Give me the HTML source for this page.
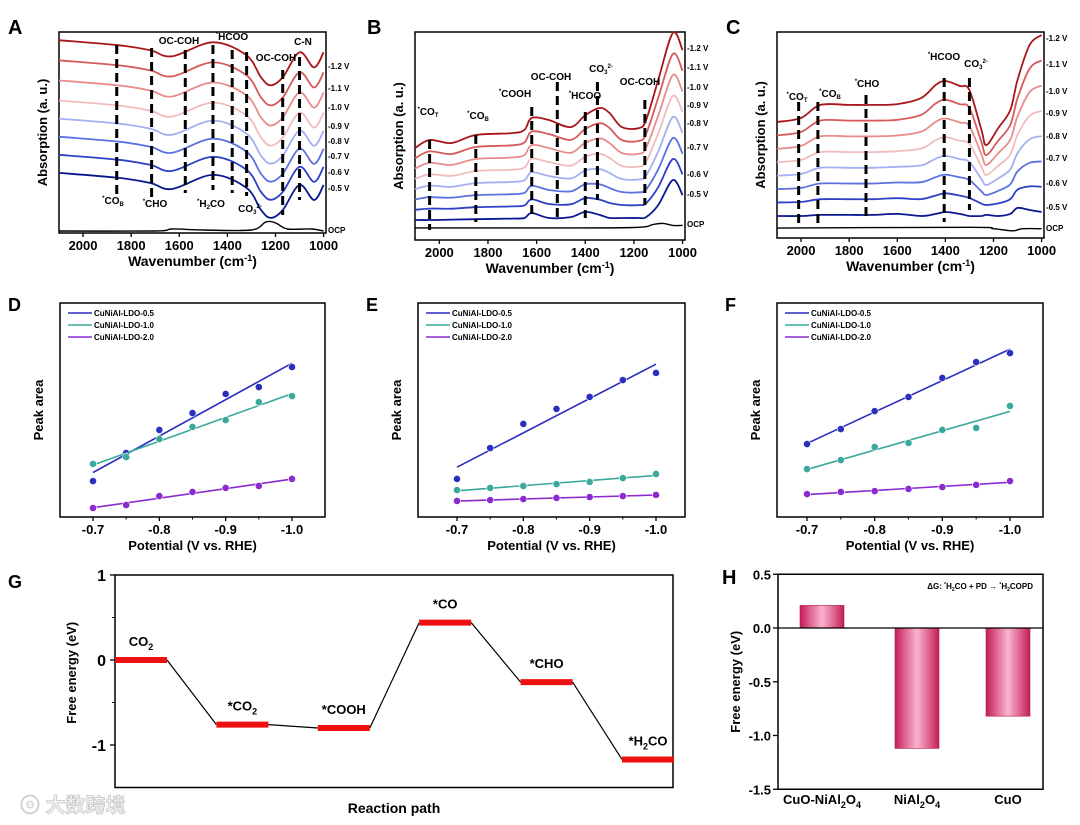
<!DOCTYPE html>
<html><head><meta charset="utf-8"><style>
body{margin:0;background:#fff}
svg{display:block;font-family:"Liberation Sans","Noto Sans CJK SC",sans-serif}
text{font-weight:bold}
</style></head><body>
<svg id="fig" width="1080" height="825" viewBox="0 0 1080 825"></svg>
<script>
// ---------- DATA ----------
const voltLabels = ["-0.5 V","-0.6 V","-0.7 V","-0.8 V","-0.9 V","-1.0 V","-1.1 V","-1.2 V"];
const curveColors = ["#0a1890","#2e40c8","#5d72e2","#a3b0f2","#f3bcbc","#e88c8c","#d65a5a","#a8161a"];
// Panel A
const aWn = [2100,1850,1720,1630,1460,1320,1260,1220,1170,1100,1040,1000];
const aShape = [29.9,27.4,24.9,21.9,28.9,22.4,11.4,7.5,11.4,23.9,16.4,23.9];
const aOffsets = [0,9,18,27,36,46,56,66];
const aOcpWn = [2100,1700,1630,1500,1300,1240,1200,1150,1050,1000];
const aOcp = [1,1,2,1.5,1.5,5.5,5,2,2,1];
const aMarkers = [1860,1715,1575,1460,1380,1320,1170,1100];
// Panel B
const bWn = [2100,2040,1950,1850,1700,1650,1620,1550,1460,1400,1340,1300,1250,1180,1150,1100,1040,1000];
const bBottom = [9.6,9.6,9.8,10,10.3,10.6,13,10.6,11,13.5,12,10.6,10.6,10.6,11,16.8,28.8,21.6];
const bTop = [44.2,48.1,46.6,50.5,51.4,53,58.7,57.7,54.3,60,63.5,61,54.3,53.8,57.7,76.9,99.5,91.3];
const bOcpWn = [2100,1600,1200,1120,1080,1040,1000];
const bOcp = [5.8,5.8,6,7.5,8,7,7];
const bMarkers = [2040,1850,1620,1515,1400,1350,1155];
// Panel C
const cWn = [2100,2000,1920,1800,1700,1600,1500,1440,1400,1340,1300,1250,1230,1180,1130,1100,1050,1000];
const cTop = [56.3,58.3,64.6,64.6,64.6,65.0,68.0,74.3,76.2,73.8,71.8,52.4,45.1,53.4,62.1,76.7,93.7,98.5];
const cBottom = [10.7,10.7,11.2,11.2,11.2,11.7,10.7,11.7,12.6,11.7,10.7,10.7,11.2,10.7,11.7,14.6,13.6,12.6];
const cOcpWn = [2100,1300,1200,1120,1080,1000];
const cOcp = [4.8,5.2,4.5,3.5,4.5,4.5];
const cMarkers = [2010,1930,1730,1405,1300];
// Panels D/E/F
const potentials = [-0.7,-0.75,-0.8,-0.85,-0.9,-0.95,-1.0];
const seriesNames = ["CuNiAl-LDO-0.5","CuNiAl-LDO-1.0","CuNiAl-LDO-2.0"];
const seriesColors = ["#2a2fc0","#3aa89a","#8a2ad0"];
const dBlue = [16.8,29.9,40.7,48.6,57.5,60.7,70.1];
const dTeal = [24.8,28.0,36.4,42.1,45.3,53.7,56.5];
const dPurple = [4.2,5.6,9.8,11.7,13.6,14.5,17.8];
const eBlue = [17.8,32.2,43.5,50.5,56.1,64.0,67.3];
const eTeal = [12.6,13.6,14.5,15.4,16.4,18.2,20.1];
const ePurple = [7.5,7.9,8.4,8.9,9.3,9.8,10.3];
const fBlue = [34.1,41.1,49.5,56.1,65.0,72.4,76.6];
const fTeal = [22.4,26.6,32.7,34.6,40.7,41.6,51.9];
const fPurple = [10.7,11.7,12.1,13.1,14.0,15.0,16.8];
const potTicks = ["-0.7","-0.8","-0.9","-1.0"];
// Panel G
const gStates = ["CO2","*CO2","*COOH","*CO","*CHO","*H2CO"];
const gEnergies = [0,-0.76,-0.8,0.44,-0.26,-1.17];
const gTicks = [1,0,-1];
// Panel H
const hCats = ["CuO-NiAl2O4","NiAl2O4","CuO"];
const hValues = [0.21,-1.12,-0.82];
const hTicks = [0.5,0.0,-0.5,-1.0,-1.5];
const wnTicks = [2000,1800,1600,1400,1200,1000];

// ---------- HELPERS ----------
const svg = document.getElementById('fig');
const NS = "http://www.w3.org/2000/svg";
function mk(tag, attrs, parent){
  const e = document.createElementNS(NS, tag);
  for (const k in attrs) e.setAttribute(k, attrs[k]);
  (parent||svg).appendChild(e);
  return e;
}
function txt(x,y,s,size,anchor,parent){
  const t = mk('text',{x:x,y:y,'font-size':size,'text-anchor':anchor||'middle'},parent);
  t.innerHTML = s;
  return t;
}
function smoothPath(pts){
  let d = "M"+pts[0][0].toFixed(1)+","+pts[0][1].toFixed(1);
  for (let i=0;i<pts.length-1;i++){
    const p0=pts[Math.max(0,i-1)],p1=pts[i],p2=pts[i+1],p3=pts[Math.min(pts.length-1,i+2)];
    const c1=[p1[0]+(p2[0]-p0[0])/6,p1[1]+(p2[1]-p0[1])/6];
    const c2=[p2[0]-(p3[0]-p1[0])/6,p2[1]-(p3[1]-p1[1])/6];
    d+=" C"+c1[0].toFixed(1)+","+c1[1].toFixed(1)+" "+c2[0].toFixed(1)+","+c2[1].toFixed(1)+" "+p2[0].toFixed(1)+","+p2[1].toFixed(1);
  }
  return d;
}

// ---------- SPECTRA PANELS ----------
function spectraPanel(cfg){
  const g = mk('g',{});
  
  
  const X = wn => cfg.left + (2100-wn)/1110*(cfg.right-cfg.left);
  const Y = v => cfg.bottom - v*(cfg.bottom-cfg.top)/100;
  const letter = txt(cfg.letterX, cfg.letterY, cfg.letter, 20, 'start', g);
  
  
  const frame = mk('rect',{x:cfg.left,y:cfg.top,width:cfg.right-cfg.left,height:cfg.bottom-cfg.top,fill:'none',stroke:'#000','stroke-width':1.5},g);
  
  
  for (let i=0;i<8;i++){
    const vals = cfg.curve(i);
    const pts = cfg.wn.map((w,j)=>[X(w),Y(vals[j])]);
    const p = mk('path',{d:smoothPath(pts),fill:'none',stroke:curveColors[i],'stroke-width':1.8},g);
    
    
  }
  const opts = cfg.ocpWn.map((w,j)=>[X(w),Y(cfg.ocp[j])]);
  const op = mk('path',{d:smoothPath(opts),fill:'none',stroke:'#000','stroke-width':1.4},g);
  
  
  cfg.markers.forEach((w,k)=>{
    const m = mk('line',{x1:X(w),x2:X(w),y1:cfg.mTop[k],y2:cfg.mBot[k],stroke:'#000','stroke-width':3,'stroke-dasharray':'9,5'},g);
    
    
  });
  wnTicks.forEach(w=>{
    mk('line',{x1:X(w),x2:X(w),y1:cfg.bottom,y2:cfg.bottom+4,stroke:'#000','stroke-width':1.3},g);
    const t = txt(X(w),cfg.bottom+17,String(w),13,'middle',g);
    
    
  });
  const xt = txt((cfg.left+cfg.right)/2,cfg.bottom+33,'Wavenumber (cm<tspan dy="-5" font-size="9">-1</tspan><tspan dy="5">)</tspan>',14,'middle',g);
  
  
  const yt = txt(0,0,'Absorption (a. u.)',13,'middle',g);
  yt.setAttribute('transform','translate('+(cfg.left-12)+','+((cfg.top+cfg.bottom)/2)+') rotate(-90)');
  
  
  cfg.vY.forEach((y,k)=>{
    const t = txt(cfg.right+2,y+3,k<8?voltLabels[7-k]:'OCP',8,'start',g);
    
    
  });
  cfg.labels.forEach(l=>{
    const t = txt(l[0],l[1],l[2],10,'middle',g);
    
    
  });
}
spectraPanel({name:'panel-a',letter:'A',letterX:8,letterY:34,left:59,right:326,top:32,bottom:233,
  wn:aWn,curve:i=>aShape.map(v=>v+aOffsets[i]),ocpWn:aOcpWn,ocp:aOcp,markers:aMarkers,
  mTop:[45,48,50,45,50,52,70,57],mBot:[195,197,193,190,193,196,215,200],
  vY:[66,88,107,126,141,156,172,188,230],
  labels:[[179,44,'OC-COH'],[232,40,'<tspan font-size="6" dy="-4">*</tspan><tspan dy="4">HCOO</tspan>'],[276,61,'OC-COH'],[303,45,'C-N'],
  [113,204,'<tspan font-size="6" dy="-4">*</tspan><tspan dy="4">CO</tspan><tspan font-size="6" dy="2">B</tspan>'],[155,207,'<tspan font-size="6" dy="-4">*</tspan><tspan dy="4">CHO</tspan>'],[211,207,'<tspan font-size="6" dy="-4">*</tspan><tspan dy="4">H</tspan><tspan font-size="6" dy="2">2</tspan><tspan dy="-2">CO</tspan>'],[250,212,'CO<tspan font-size="6" dy="2">3</tspan><tspan font-size="6" dy="-6">2-</tspan>']]});
spectraPanel({name:'panel-b',letter:'B',letterX:367,letterY:34,left:415,right:685,top:32,bottom:240,
  wn:bWn,curve:i=>bBottom.map((v,j)=>v+(bTop[j]-v)*i/7),ocpWn:bOcpWn,ocp:bOcp,markers:bMarkers,
  mTop:[140,135,107,82,112,82,100],mBot:[230,222,218,218,218,200,205],
  vY:[48,67,87,105,123,147,174,194,224],
  labels:[[428,115,'<tspan font-size="6" dy="-4">*</tspan><tspan dy="4">CO</tspan><tspan font-size="6" dy="2">T</tspan>'],[478,119,'<tspan font-size="6" dy="-4">*</tspan><tspan dy="4">CO</tspan><tspan font-size="6" dy="2">B</tspan>'],[515,97,'<tspan font-size="6" dy="-4">*</tspan><tspan dy="4">COOH</tspan>'],[551,80,'OC-COH'],[585,99,'<tspan font-size="6" dy="-4">*</tspan><tspan dy="4">HCOO</tspan>'],[601,72,'CO<tspan font-size="6" dy="2">3</tspan><tspan font-size="6" dy="-6">2-</tspan>'],[640,85,'OC-COH']]});
spectraPanel({name:'panel-c',letter:'C',letterX:726,letterY:34,left:777,right:1044,top:32,bottom:238,
  wn:cWn,curve:i=>cBottom.map((v,j)=>v+(cTop[j]-v)*i/7),ocpWn:cOcpWn,ocp:cOcp,markers:cMarkers,
  mTop:[102,102,95,78,78],mBot:[228,228,218,222,210],
  vY:[38,64,91,113,136,158,183,207,228],
  labels:[[797,100,'<tspan font-size="6" dy="-4">*</tspan><tspan dy="4">CO</tspan><tspan font-size="6" dy="2">T</tspan>'],[830,97,'<tspan font-size="6" dy="-4">*</tspan><tspan dy="4">CO</tspan><tspan font-size="6" dy="2">B</tspan>'],[867,87,'<tspan font-size="6" dy="-4">*</tspan><tspan dy="4">CHO</tspan>'],[944,60,'<tspan font-size="6" dy="-4">*</tspan><tspan dy="4">HCOO</tspan>'],[976,67,'CO<tspan font-size="6" dy="2">3</tspan><tspan font-size="6" dy="-6">2-</tspan>']]});

// ---------- PEAK AREA PANELS ----------
function fit(xs,ys){
  const n=xs.length,mx=xs.reduce((a,b)=>a+b)/n,my=ys.reduce((a,b)=>a+b)/n;
  let sxy=0,sxx=0;xs.forEach((x,i)=>{sxy+=(x-mx)*(ys[i]-my);sxx+=(x-mx)*(x-mx);});
  const b=sxy/sxx;return [my-b*mx,b];
}
function areaPanel(cfg){
  const g = mk('g',{});
  
  
  const X = p => cfg.x07 + (p+0.7)/(-0.3)*(cfg.x10-cfg.x07);
  const Y = v => cfg.bottom - v*(cfg.bottom-cfg.top)/100;
  const lt = txt(cfg.left-52,cfg.top+8,cfg.letter,18,'start',g);
  
  
  const fr = mk('rect',{x:cfg.left,y:cfg.top,width:cfg.right-cfg.left,height:cfg.bottom-cfg.top,fill:'none',stroke:'#000','stroke-width':1.5},g);
  
  
  [-0.7,-0.8,-0.9,-1.0].forEach((p,k)=>{
    mk('line',{x1:X(p),x2:X(p),y1:cfg.bottom,y2:cfg.bottom+4,stroke:'#000','stroke-width':1.3},g);
    const t=txt(X(p),cfg.bottom+17,potTicks[k],13,'middle',g);
    
    
  });
  [-0.75,-0.85,-0.95].forEach(p=>mk('line',{x1:X(p),x2:X(p),y1:cfg.bottom,y2:cfg.bottom+2.5,stroke:'#000'},g));
  const xt=txt((cfg.left+cfg.right)/2,cfg.bottom+33,'Potential (V vs. RHE)',13,'middle',g);
  
  
  const yt=txt(0,0,'Peak area',13,'middle',g);
  yt.setAttribute('transform','translate('+(cfg.left-17)+','+((cfg.top+cfg.bottom)/2)+') rotate(-90)');
  
  
  cfg.series.forEach((ys,s)=>{
    const [a,b]=fit(potentials,ys);
    const ln=mk('line',{x1:X(-0.7),y1:Y(a+b*-0.7),x2:X(-1.0),y2:Y(a+b*-1.0),stroke:seriesColors[s],'stroke-width':1.6},g);
    
    
    ys.forEach((v,i)=>{
      const c=mk('circle',{cx:X(potentials[i]),cy:Y(v),r:3.6,fill:seriesColors[s],stroke:'#fff','stroke-width':0.6},g);
      
      
    });
    const ly=cfg.top+10+s*12;
    const lg=mk('line',{x1:cfg.left+8,x2:cfg.left+32,y1:ly,y2:ly,stroke:seriesColors[s],'stroke-width':1.6},g);
    
    
    const lt2=txt(cfg.left+34,ly+3,seriesNames[s],8,'start',g);
    
    
  });
}
areaPanel({name:'panel-d',letter:'D',left:60,right:325,top:303,bottom:517,x07:93,x10:292,series:[dBlue,dTeal,dPurple]});
areaPanel({name:'panel-e',letter:'E',left:418,right:685,top:303,bottom:517,x07:457,x10:656,series:[eBlue,eTeal,ePurple]});
areaPanel({name:'panel-f',letter:'F',left:777,right:1043,top:303,bottom:517,x07:807,x10:1010,series:[fBlue,fTeal,fPurple]});

// ---------- PANEL G ----------
(function(){
  const g=mk('g',{});
  
  
  const L=115,R=673,Y=e=>660-e*85,step=101.4,w=52;
  const lt=txt(8,588,'G',18,'start',g);
  
  
  const fr=mk('rect',{x:L,y:Y(1),width:R-L,height:Y(-1.5)-Y(1),fill:'none',stroke:'#000','stroke-width':1.5},g);
  
  
  gTicks.forEach(t=>{
    mk('line',{x1:L-5,x2:L,y1:Y(t),y2:Y(t),stroke:'#000','stroke-width':1.3},g);
    const tl=txt(L-9,Y(t)+6,String(t),16,'end',g);
    
    
  });
  [0.5,-0.5].forEach(t=>mk('line',{x1:L-3,x2:L,y1:Y(t),y2:Y(t),stroke:'#000'},g));
  const yt=txt(0,0,'Free energy (eV)',13,'middle',g);
  yt.setAttribute('transform','translate(76,'+Y(-0.15)+') rotate(-90)');
  
  
  const xt=txt((L+R)/2,813,'Reaction path',14,'middle',g);
  
  
  const lbl=['CO<tspan font-size="9" dy="4">2</tspan>','*CO<tspan font-size="9" dy="4">2</tspan>','*COOH','*CO','*CHO','*H<tspan font-size="9" dy="4">2</tspan><tspan dy="-4">CO</tspan>'];
  gEnergies.forEach((e,i)=>{
    const x0=L+i*step;
    if(i>0){
      const c=mk('line',{x1:L+(i-1)*step+w,y1:Y(gEnergies[i-1]),x2:x0,y2:Y(e),stroke:'#000','stroke-width':1.2},g);
      
      
    }
    const b=mk('line',{x1:x0,x2:x0+w,y1:Y(e),y2:Y(e),stroke:'#ee1010','stroke-width':6},g);
    
    
    const t=txt(x0+w/2,Y(e)-14,lbl[i],13,'middle',g);
    
    
  });
  const wm=txt(20,812,'⦿ 大数跨境',20,'start',g);
  wm.setAttribute('fill','#f2f2f2');wm.setAttribute('stroke','#c8c8c8');wm.setAttribute('stroke-width','0.8');
  
  
})();

// ---------- PANEL H ----------
(function(){
  const g=mk('g',{});
  
  
  const defs=mk('defs',{},g);
  const gr=mk('linearGradient',{id:'barg',x1:0,x2:1,y1:0,y2:0},defs);
  mk('stop',{offset:'0','stop-color':'#c41e58'},gr);
  mk('stop',{offset:'0.5','stop-color':'#fab4d0'},gr);
  mk('stop',{offset:'1','stop-color':'#c41e58'},gr);
  const L=778,R=1043,Y=e=>628-e*107.5;
  const lt=txt(722,584,'H',20,'start',g);
  
  
  const fr=mk('rect',{x:L,y:Y(0.5),width:R-L,height:Y(-1.5)-Y(0.5),fill:'none',stroke:'#000','stroke-width':1.5},g);
  
  
  hTicks.forEach(t=>{
    mk('line',{x1:L-5,x2:L,y1:Y(t),y2:Y(t),stroke:'#000','stroke-width':1.3},g);
    const tl=txt(L-7,Y(t)+5,t.toFixed(1),13,'end',g);
    
    
  });
  const yt=txt(0,0,'Free energy (eV)',13,'middle',g);
  yt.setAttribute('transform','translate(740,'+Y(-0.5)+') rotate(-90)');
  
  
  const centers=[822,917,1008];
  const names=['CuO-NiAl<tspan font-size="9" dy="4">2</tspan><tspan dy="-4">O</tspan><tspan font-size="9" dy="4">4</tspan>','NiAl<tspan font-size="9" dy="4">2</tspan><tspan dy="-4">O</tspan><tspan font-size="9" dy="4">4</tspan>','CuO'];
  hValues.forEach((v,i)=>{
    const y1=Math.min(Y(0),Y(v)),h=Math.abs(Y(v)-Y(0));
    const b=mk('rect',{x:centers[i]-22,y:y1,width:44,height:h,fill:'url(#barg)',stroke:'#b01850','stroke-width':0.6},g);
    
    
    const t=txt(centers[i],804,names[i],13,'middle',g);
    
    
  });
  const z=mk('line',{x1:L,x2:R,y1:Y(0),y2:Y(0),stroke:'#000','stroke-width':1.3},g);
  
  
  const n=txt(1033,589,'ΔG: <tspan font-size="5" dy="-3">*</tspan><tspan dy="3">H</tspan><tspan font-size="5" dy="2">2</tspan><tspan dy="-2">CO + PD → </tspan><tspan font-size="5" dy="-3">*</tspan><tspan dy="3">H</tspan><tspan font-size="5" dy="2">2</tspan><tspan dy="-2">COPD</tspan>',8,'end',g);
  
  
})();
</script>
</body></html>
